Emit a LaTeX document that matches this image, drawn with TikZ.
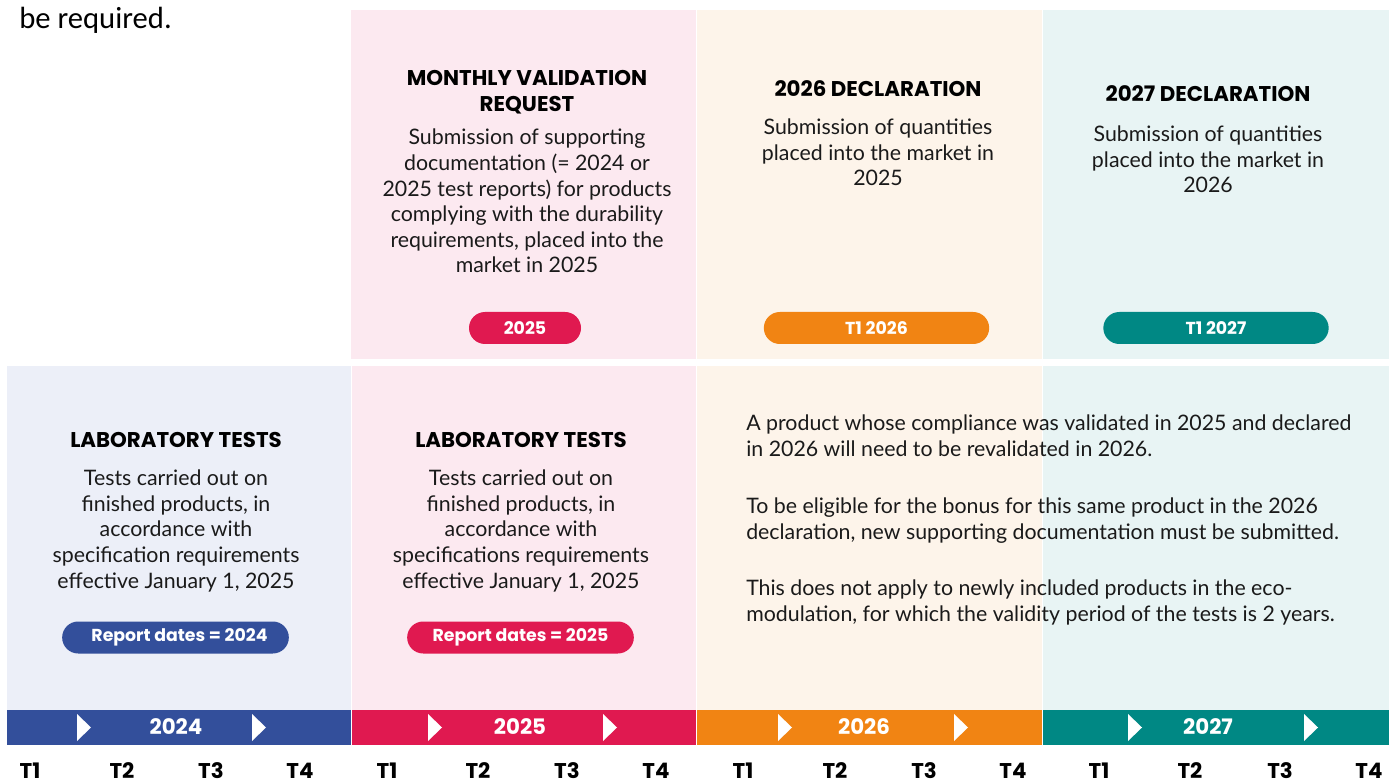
\documentclass[tikz,border=0pt]{standalone}
\usepackage{fontspec}
\setmainfont{Lato}
\newfontfamily\pop{Poppins}
\newfontfamily\carl{Carlito}
\definecolor{cblue}{HTML}{334F9B}
\definecolor{cred}{HTML}{E01950}
\definecolor{corange}{HTML}{F18413}
\definecolor{cteal}{HTML}{008884}
\definecolor{bgblue}{HTML}{ECEFF8}
\definecolor{bgpink}{HTML}{FCE9F0}
\definecolor{bgcream}{HTML}{FDF4EA}
\definecolor{bgteal}{HTML}{E8F4F4}
\definecolor{ctext}{HTML}{1A1A1A}
\tikzset{
  body/.style={anchor=base, align=center, inner sep=0pt, text=ctext, font=\fontsize{16}{19.2}\selectfont},
  head/.style={anchor=base, align=center, inner sep=0pt, text=black, font=\pop\bfseries\fontsize{16}{19.5}\selectfont},
  pill/.style={fill=#1, rounded corners=12pt, minimum height=24pt, inner sep=0pt, text=white, font=\pop\bfseries\fontsize{13}{15}\selectfont},
  yeartxt/.style={text=white, inner sep=0pt, font=\pop\bfseries\fontsize{16}{18}\selectfont},
  qtr/.style={anchor=base, inner sep=0pt, text=black, font=\pop\bfseries\fontsize{16}{18}\selectfont},
  tri/.style={fill=white},
}
\begin{document}
\begin{tikzpicture}[x=0.75pt,y=-0.75pt]
\useasboundingbox (0,0) rectangle (1399,780);
% top panels
\fill[bgpink] (351,10) rectangle (696,359);
\fill[bgcream] (697,10) rectangle (1042,359);
\fill[bgteal] (1043,10) rectangle (1389,359);
% lower panels
\fill[bgblue] (7,366) rectangle (351,710);
\fill[bgpink] (352,366) rectangle (696,710);
\fill[bgcream] (697,366) rectangle (1042,710);
\fill[bgteal] (1043,366) rectangle (1389,710);
% bars
\fill[cblue] (7,710) rectangle (351,745);
\fill[cred] (352,710) rectangle (696,745);
\fill[corange] (697,710) rectangle (1042,745);
\fill[cteal] (1043,710) rectangle (1389,745);
\foreach \x in {77,252,428,603,778,954,1128,1304}{
  \fill[tri] (\x,714) -- (\x+14,727.5) -- (\x,741) -- cycle;
}
\node[yeartxt] (y24) at (176,727) {2024};
\node[yeartxt] (y25) at (520,727) {2025};
\node[yeartxt] (y26) at (864,727) {2026};
\node[yeartxt] (y27) at (1208,727) {2027};
% quarters
\foreach \x/\t [count=\i] in {30/T1,122/T2,211/T3,300/T4,387/T1,478/T2,567/T3,656/T4,743/T1,835/T2,924/T3,1013/T4,1099/T1,1190/T2,1280/T3,1369/T4}{
  \node[qtr] (q\i) at (\x,778) {\t};
}
% intro text
\node[anchor=base west, inner sep=0pt, font=\carl\fontsize{23}{26}\selectfont, text=black] (intro) at (19,29) {be required.};
% top panel 1
\node[head] (mvh) at (527,112) {MONTHLY VALIDATION\\REQUEST};
\node[body] (mvb) at (527,273) {Submission of supporting\\documentation (= 2024 or\\2025 test reports) for products\\complying with the durability\\requirements, placed into the\\market in 2025};
\node[pill=cred, minimum width=84pt] (p25) at (525,328) {2025};
% top panel 2
\node[head] (d26h) at (878,97) {2026 DECLARATION};
\node[body] (d26b) at (878,186) {Submission of quantities\\placed into the market in\\2025};
\node[pill=corange, minimum width=169pt] (p26) at (876.5,328) {T1 2026};
% top panel 3
\node[head] (d27h) at (1208,102) {2027 DECLARATION};
\node[body] (d27b) at (1208,193) {Submission of quantities\\placed into the market in\\2026};
\node[pill=cteal, minimum width=169pt] (p27) at (1216,328) {T1 2027};
% lower panel 1
\node[head] (l1h) at (176,447) {LABORATORY TESTS};
\node[body] (l1b) at (176,588) {Tests carried out on\\finished products, in\\accordance with\\specification requirements\\effective January 1, 2025};
\node[pill=cblue, minimum width=170pt] (r24) at (175.5,637.5) {\hspace*{6pt}Report dates = 2024};
% lower panel 2
\node[head] (l2h) at (521,447) {LABORATORY TESTS};
\node[body] (l2b) at (521,588) {Tests carried out on\\finished products, in\\accordance with\\specifications requirements\\effective January 1, 2025};
\node[pill=cred, minimum width=170pt] (r25) at (520.5,637.5) {Report dates = 2025};
% right text
\node[body, anchor=base west, align=left] (note1) at (746,456) {A product whose compliance was validated in 2025 and declared\\in 2026 will need to be revalidated in 2026.};
\node[body, anchor=base west, align=left] (note2) at (746,539) {To be eligible for the bonus for this same product in the 2026\\declaration, new supporting documentation must be submitted.};
\node[body, anchor=base west, align=left] (note3) at (746,621) {This does not apply to newly included products in the eco-\\modulation, for which the validity period of the tests is 2 years.};
\end{tikzpicture}
\end{document}
